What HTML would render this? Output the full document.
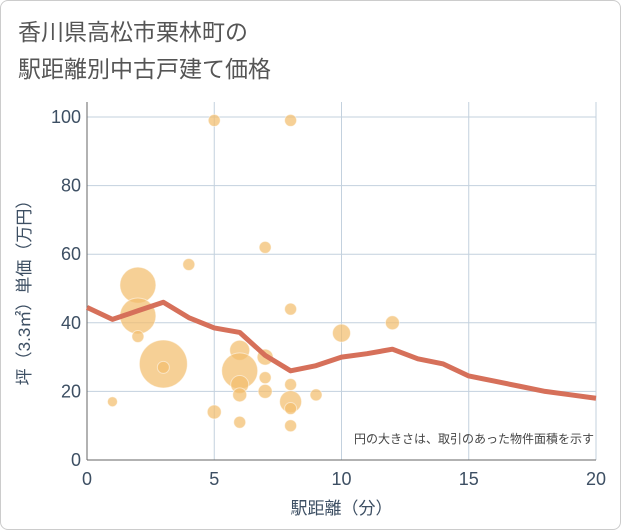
<!DOCTYPE html><html><head><meta charset="utf-8"><style>
body{margin:0;background:#fff;font-family:"Liberation Sans","Noto Sans CJK JP",sans-serif}
#wrap{position:relative;width:619px;height:528px;border:1px solid #ccc;border-radius:8px;overflow:hidden;background:#fff}
#chart{position:absolute;left:-1px;top:-1px}
</style></head><body>
<div id="wrap">
<svg id="chart" width="621" height="530"></svg>
</div>
<script>
const xTicks=[0,5,10,15,20];
const yTicks=[0,20,40,60,80,100];
const bubbleX=[1,2,2,2,3,3,4,5,5,6,6,6,6,6,7,7,7,7,8,8,8,8,8,8,9,10,12];
const bubbleY=[17,51,42,36,28,27,57,99,14,32,26,22,19,11,62,30,24,20,99,44,22,17,15,10,19,37,40];
const bubbleR=[5,18,18,6,24,6,6,6,7,10,18,9,7,6,6,8,6,7,6,6,6,11,6,6,6,9,7];
const lineX=[0,1,2,3,4,5,6,7,8,9,10,11,12,13,14,15,16,17,18,19,20];
const lineY=[44.5,41,43.5,46,41.5,38.5,37.2,30.5,26,27.5,30,31,32.3,29.5,28,24.5,23,21.5,20,19,18];
const NS='http://www.w3.org/2000/svg';
const svg=document.getElementById('chart');
const L=87,R=596,T=117,B=460;
const sx=v=>L+(R-L)*v/20, sy=v=>B-(B-T)*v/100;
function mk(t,a,p){const e=document.createElementNS(NS,t);for(const k in a)e.setAttribute(k,a[k]);(p||svg).appendChild(e);return e;}
function txt(x,y,s,a){const e=mk('text',Object.assign({x:x,y:y,fill:'#3d4f63','font-family':'"Liberation Sans","Noto Sans CJK JP",sans-serif'},a));e.textContent=s;return e;}
let t1=txt(18,40,'香川県高松市栗林町の',{'font-size':23,fill:'#555'});

let t2=txt(18,77,'駅距離別中古戸建て価格',{'font-size':23,fill:'#555'});

xTicks.forEach(v=>{const l=mk('line',{x1:sx(v),x2:sx(v),y1:T-15,y2:B,stroke:'#c3d1de','stroke-width':1});

const t=txt(sx(v),B+25,String(v),{'font-size':18,'text-anchor':'middle'});
});
yTicks.forEach(v=>{const l=mk('line',{x1:L,x2:R,y1:sy(v),y2:sy(v),stroke:'#c3d1de','stroke-width':1});

const t=txt(L-6,sy(v)+6,String(v),{'font-size':18,'text-anchor':'end'});
});
const ax=mk('line',{x1:L,x2:L,y1:T-15,y2:B,stroke:'#666','stroke-width':1});

const ax2=mk('line',{x1:L,x2:R,y1:B,y2:B,stroke:'#666','stroke-width':1});

bubbleX.forEach((v,i)=>{const c=mk('circle',{cx:sx(v),cy:sy(bubbleY[i]),r:bubbleR[i],fill:'#f3be6e','fill-opacity':0.72,stroke:'#fff','stroke-opacity':0.5,'stroke-width':1});
});
const pl=mk('polyline',{points:lineX.map((v,i)=>sx(v)+','+sy(lineY[i])).join(' '),fill:'none',stroke:'#d6705a','stroke-width':5,'stroke-linejoin':'round'});

const n=txt(594,443,'円の大きさは、取引のあった物件面積を示す',{'font-size':12,'text-anchor':'end',fill:'#444'});

const xt=txt(sx(10),514,'駅距離（分）',{'font-size':17,'text-anchor':'middle'});

const yt=txt(0,0,'坪（3.3㎡）単価（万円）',{'font-size':17,'text-anchor':'middle',transform:'translate(30,'+((T+B)/2)+') rotate(-90)'});

</script></body></html>
